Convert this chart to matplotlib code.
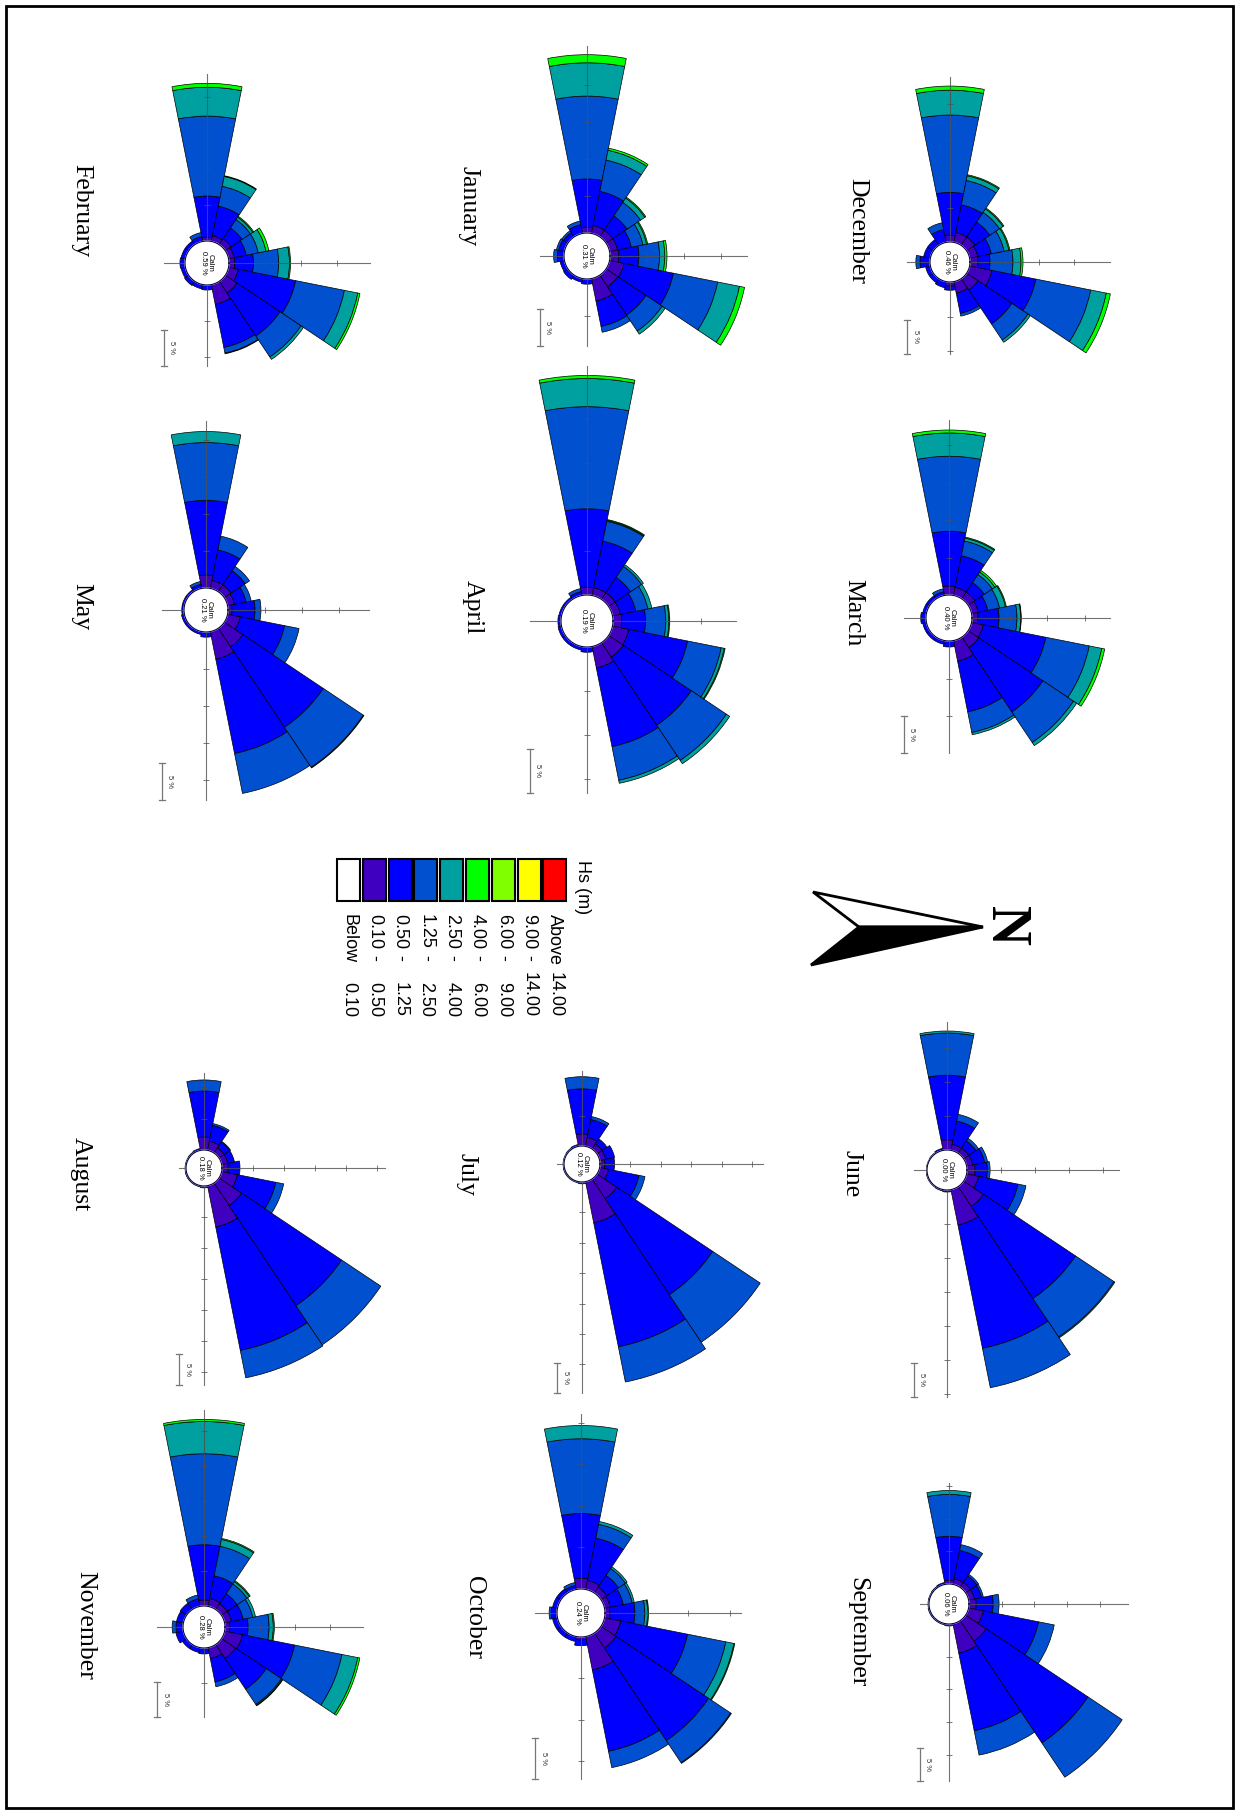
import numpy as np
import matplotlib.pyplot as plt
from matplotlib.patches import Rectangle, Polygon

W, H = 1239, 1814

# 16 sectors, clockwise from N
directions = ['N', 'NNE', 'NE', 'ENE', 'E', 'ESE', 'SE', 'SSE',
              'S', 'SSW', 'SW', 'WSW', 'W', 'WNW', 'NW', 'NNW']
classes = ['0.10 - 0.50', '0.50 - 1.25', '1.25 - 2.50', '2.50 - 4.00', '4.00 - 6.00']
class_colors = ['#4000c0', '#0000ff', '#0050d0', '#00a0a0', '#00ff00']

# legend rows, left to right in the picture
legend_left = ['Below', '0.10', '0.50', '1.25', '2.50', '4.00', '6.00', '9.00', 'Above']
legend_right = ['0.10', '0.50', '1.25', '2.50', '4.00', '6.00', '9.00', '14.00', '14.00']
legend_colors = ['#ffffff', '#4000c0', '#0000ff', '#0050d0', '#00a0a0',
                 '#00ff00', '#80ff00', '#ffff00', '#ff0000']

months = ['December', 'January', 'February', 'March', 'April', 'May',
          'June', 'July', 'August', 'September', 'October', 'November']
calm = [0.46, 0.31, 0.59, 0.40, 0.19, 0.21, 0.00, 0.12, 0.18, 0.06, 0.24, 0.28]

# frequency (%) per sector (rows, N..NNW) and Hs class (columns)
dec = [[1.16, 1.74, 3.33, 1.16, 0.29], [3.3, 6.5, 8.1, 2.3, 0.6], [2.0, 5.9, 2.8, 0.4, 0],
       [1.7, 3.0, 0.4, 0, 0], [0.6, 0.6, 0, 0, 0], [0, 0.9, 0, 0, 0], [0, 0.7, 0, 0, 0],
       [0, 0.7, 0, 0, 0], [0, 1.45, 0.6, 0, 0], [0, 1.0, 0, 0, 0], [0, 1.0, 0, 0, 0],
       [0, 1.9, 1.0, 0, 0], [1.0, 6.2, 11.2, 3.6, 0.6], [1.45, 4.1, 3.6, 0.7, 0.15],
       [1.45, 2.6, 1.7, 0.6, 0.15], [1.2, 2.0, 1.9, 0.7, 0.15]]
jan = [[1.2, 2.7, 2.8, 0.7, 0.3], [2.0, 6.8, 6.1, 3.0, 0.7], [1.9, 4.6, 2.6, 0.5, 0],
       [3.1, 3.5, 0.8, 0, 0], [0, 0.7, 0, 0, 0], [0, 0.5, 0, 0, 0], [0, 0.7, 0, 0, 0],
       [0, 0.6, 0, 0, 0], [0, 0.9, 0.5, 0, 0], [0, 0.8, 0.3, 0, 0], [0, 0.7, 0.3, 0, 0],
       [0, 1.2, 0.5, 0, 0], [0.8, 6.5, 11.2, 4.5, 1.1], [1.1, 4.7, 4.3, 1.35, 0.3],
       [1.1, 2.3, 2.2, 0.7, 0.15], [1.1, 1.9, 1.6, 0.5, 0.15]]
feb = [[0.8, 2.6, 3.5, 1.5, 0.15], [1.4, 8.1, 6.9, 1.9, 0.3], [1.95, 7.2, 3.5, 0.4, 0],
       [2.8, 6.1, 0.8, 0.1, 0], [0, 0.7, 0, 0, 0], [0, 0.6, 0, 0, 0], [0, 0.7, 0, 0, 0],
       [0, 0.6, 0, 0, 0], [0, 0.7, 0, 0, 0], [0, 0.6, 0, 0, 0], [0, 0.6, 0, 0, 0],
       [0, 0.7, 0.55, 0, 0], [0.55, 5.7, 11.1, 4.0, 0.55], [0.8, 4.2, 2.8, 1.4, 0.1],
       [1.0, 1.8, 1.4, 0.4, 0.15], [0.8, 1.7, 1.7, 1.1, 0.4]]
mar = [[0.8, 2.8, 2.4, 0.5, 0.07], [1.6, 8.5, 5.9, 1.7, 0.4], [1.7, 10.3, 4.9, 0.5, 0],
       [2.8, 6.9, 2.8, 0.3, 0], [0, 0.8, 0, 0, 0], [0, 0.5, 0, 0, 0], [0, 0.5, 0, 0, 0],
       [0, 0.5, 0, 0, 0], [0, 0.7, 0, 0, 0], [0, 0.5, 0, 0, 0], [0, 0.5, 0, 0, 0],
       [0, 0.5, 0.4, 0, 0], [1.2, 7.3, 10.0, 3.1, 0.4], [1.1, 4.3, 2.0, 0.4, 0.13],
       [1.1, 1.5, 1.3, 0.4, 0.27], [0.9, 1.3, 1.6, 0.8, 0.13]]
apr = [[1.0, 2.7, 2.3, 0.35, 0.1], [1.9, 6.8, 3.9, 0.35, 0.1], [2.0, 9.3, 4.8, 0.45, 0],
       [2.5, 9.1, 3.9, 0.35, 0], [0, 0.6, 0, 0, 0], [0, 0.4, 0, 0, 0], [0, 0.4, 0, 0, 0],
       [0, 0.4, 0, 0, 0], [0, 0.35, 0, 0, 0], [0, 0.3, 0, 0, 0], [0, 0.3, 0, 0, 0],
       [0, 0.45, 0.35, 0, 0], [0.9, 8.9, 11.6, 3.2, 0.35], [0.9, 5.4, 2.3, 0.1, 0.1],
       [0.9, 2.1, 1.5, 0.25, 0], [0.9, 1.8, 1.4, 0.45, 0]]
may = [[0.55, 3.1, 0.8, 0, 0], [1.75, 6.1, 2.0, 0, 0], [3.0, 13.1, 6.5, 0.1, 0],
       [3.8, 13.0, 5.5, 0, 0], [0, 0.7, 0, 0, 0], [0, 0.4, 0, 0, 0], [0, 0.4, 0, 0, 0],
       [0, 0.4, 0, 0, 0], [0, 0.3, 0, 0, 0], [0, 0.3, 0, 0, 0], [0, 0.3, 0, 0, 0],
       [0, 0.55, 0.4, 0, 0], [1.75, 10.1, 7.8, 1.5, 0], [1.1, 4.2, 1.9, 0, 0],
       [1.1, 2.3, 0.7, 0, 0], [0.95, 1.6, 0.7, 0, 0]]
jun = [[1.2, 1.8, 0.4, 0, 0], [1.8, 5.9, 1.2, 0, 0], [3.5, 16.3, 6.8, 0.15, 0],
       [5.3, 18.5, 5.9, 0, 0], [0, 0.3, 0, 0, 0], [0, 0.2, 0, 0, 0], [0, 0.15, 0, 0, 0],
       [0, 0.15, 0, 0, 0], [0, 0.1, 0, 0, 0], [0, 0.1, 0, 0, 0], [0, 0.15, 0, 0, 0],
       [0, 0.3, 0, 0, 0], [1.5, 9.5, 6.2, 0.3, 0], [0.9, 3.5, 1.0, 0, 0],
       [0.9, 1.3, 0.45, 0, 0], [0.9, 1.8, 0.45, 0, 0]]
jul = [[0.8, 1.6, 0, 0, 0], [1.5, 5.1, 1.0, 0, 0], [3.9, 19.0, 9.4, 0, 0],
       [6.9, 20.8, 5.9, 0, 0], [0, 0.3, 0, 0, 0], [0, 0.2, 0, 0, 0], [0, 0.2, 0, 0, 0],
       [0, 0.2, 0, 0, 0], [0, 0.15, 0, 0, 0], [0, 0.15, 0, 0, 0], [0, 0.2, 0, 0, 0],
       [0, 0.3, 0, 0, 0], [2.0, 7.4, 2.0, 0, 0], [1.5, 3.0, 0.5, 0, 0],
       [1.0, 1.0, 0, 0, 0], [1.0, 1.5, 0, 0, 0]]
aug = [[1.0, 1.9, 0, 0, 0], [2.6, 6.3, 1.3, 0, 0], [4.4, 19.4, 7.6, 0, 0],
       [6.8, 20.3, 4.5, 0, 0], [0, 0.3, 0, 0, 0], [0, 0.2, 0, 0, 0], [0, 0.2, 0, 0, 0],
       [0, 0.2, 0, 0, 0], [0, 0.15, 0, 0, 0], [0, 0.15, 0, 0, 0], [0, 0.2, 0, 0, 0],
       [0, 0.3, 0, 0, 0], [2.1, 7.4, 1.8, 0, 0], [1.5, 2.6, 0.3, 0, 0],
       [1.0, 1.1, 0.15, 0, 0], [1.0, 1.1, 0, 0, 0]]
sep = [[1.1, 2.6, 0.9, 0, 0], [2.3, 8.6, 2.45, 0, 0], [3.8, 18.7, 6.3, 0, 0],
       [4.6, 12.1, 3.8, 0, 0], [0, 0.3, 0, 0, 0], [0, 0.2, 0, 0, 0], [0, 0.2, 0, 0, 0],
       [0, 0.2, 0, 0, 0], [0, 0.15, 0, 0, 0], [0, 0.15, 0, 0, 0], [0, 0.2, 0, 0, 0],
       [0, 0.3, 0, 0, 0], [0.6, 6.7, 6.4, 0.6, 0], [0.9, 4.4, 0.9, 0, 0],
       [0.9, 1.2, 0.3, 0, 0], [0.9, 1.1, 0.3, 0, 0]]
oct_ = [[0.6, 3.0, 1.2, 0.35, 0.1], [2.0, 8.2, 4.7, 1.0, 0.1], [2.2, 13.4, 3.2, 0.1, 0],
        [4.1, 10.0, 2.0, 0, 0], [0.35, 0.7, 0, 0, 0], [0, 0.6, 0, 0, 0], [0, 0.6, 0, 0, 0],
        [0, 0.6, 0, 0, 0], [0, 0.7, 0.25, 0, 0], [0, 0.6, 0, 0, 0], [0, 0.6, 0, 0, 0],
        [0, 0.5, 0.35, 0, 0], [1.3, 7.8, 9.0, 1.6, 0], [1.1, 5.2, 1.7, 0.35, 0],
        [0.85, 1.7, 1.0, 0.25, 0], [0.7, 1.6, 1.1, 0.25, 0]]
nov = [[0.7, 2.6, 3.0, 0.6, 0.15], [2.6, 7.6, 6.9, 2.3, 0.3], [2.4, 5.3, 2.6, 0.15, 0.1],
       [1.6, 3.4, 0.7, 0, 0], [0, 0.85, 0, 0, 0], [0, 0.7, 0, 0, 0], [0, 0.7, 0, 0, 0],
       [0, 1.1, 0, 0, 0], [0, 1.0, 0.55, 0, 0], [0, 1.0, 0, 0, 0], [0, 1.1, 0, 0, 0],
       [0, 1.1, 0.55, 0, 0], [0.85, 7.9, 13.0, 4.6, 0.3], [1.15, 3.3, 4.3, 1.0, 0.15],
       [1.0, 1.7, 1.7, 0.4, 0.15], [1.0, 1.7, 1.4, 0.4, 0]]
roses = [dec, jan, feb, mar, apr, may, jun, jul, aug, sep, oct_, nov]

# layout in pixels: centre x, centre y, calm radius, px per 5 %, axis ends (right, down, left, up)
layout = [(950, 262, 20, 34.5, (160, 92, 43, 185)),
          (587, 256, 23, 37.0, (160, 90, 47, 210)),
          (207, 263, 22, 36.0, (163, 103, 43, 189)),
          (949, 618, 23, 37.5, (161, 135, 45, 198)),
          (587, 621, 26, 44.0, (149, 172, 57, 255)),
          (206, 610, 22, 37.0, (163, 190, 44, 189)),
          (947, 1170, 20, 34.0, (172, 227, 33, 148)),
          (582, 1164, 18, 30.4, (181, 229, 25, 93)),
          (204, 1168, 18, 31.0, (181, 217, 25, 95)),
          (949, 1604, 20, 32.7, (179, 177, 29, 121)),
          (581, 1613, 24, 41.5, (160, 166, 46, 199)),
          (204, 1627, 21, 35.0, (159, 90, 47, 217))]
title_pos = [(857, 231), (469, 206), (81, 211), (853, 613), (473, 607), (81, 607),
             (852, 1174), (466, 1174), (81, 1174), (857, 1632), (474, 1617), (85, 1625)]

fig = plt.figure(figsize=(W / 100, H / 100), dpi=100)
base = fig.add_axes([0, 0, 1, 1])
base.set_xlim(0, W)
base.set_ylim(H, 0)
base.axis('off')

# page frame
base.add_patch(Rectangle((6, 6), W - 12, H - 12, fill=False, ec='black', lw=2))

# north arrow
base.add_patch(Polygon([(983, 927), (813, 892), (859, 927)], closed=True,
                       fc='white', ec='black', lw=2, joinstyle='miter'))
base.add_patch(Polygon([(983, 927), (859, 927), (811, 965)], closed=True,
                       fc='black', ec='black', lw=2, joinstyle='miter'))
base.text(1005, 926, 'N', rotation=-90, ha='center', va='center', fontsize=40,
          family='Liberation Serif', fontweight='bold')

# legend
for i, (lab_l, lab_r, col) in enumerate(zip(legend_left, legend_right, legend_colors)):
    xc = 348.5 + i * 25.8
    base.add_patch(Rectangle((xc - 11.5, 859), 23, 42, fc=col, ec='black', lw=1.5))
    base.text(xc, 914, lab_l, rotation=-90, ha='center', va='top', fontsize=13,
              family='Liberation Sans')
    if 0 < i < len(legend_left) - 1:
        base.text(xc, 958, '-', rotation=-90, ha='center', va='center', fontsize=13,
                  family='Liberation Sans')
    base.text(xc, 1017, lab_r, rotation=-90, ha='center', va='bottom', fontsize=13,
              family='Liberation Sans')
base.text(583, 860, 'Hs (m)', rotation=-90, ha='center', va='top', fontsize=13,
          family='Liberation Sans')

# month titles
for name, (tx, ty) in zip(months, title_pos):
    base.text(tx, ty, name, rotation=-90, ha='center', va='center', fontsize=18.5,
              family='Liberation Serif')

box = 262
width = np.radians(22.5)
theta = np.radians(np.arange(16) * 22.5)
circ = np.linspace(0, 2 * np.pi, 200)

for data, c, (cx, cy, r0, s, ends) in zip(roses, calm, layout):
    vals = np.array(data, dtype=float)
    k = 5.0 / s  # % per pixel
    r0p = r0 * k
    ax = fig.add_axes([(cx - box) / W, 1 - (cy + box) / H, 2 * box / W, 2 * box / H],
                      projection='polar')
    ax.set_theta_zero_location('E')
    ax.set_theta_direction(-1)
    ax.set_ylim(0, box * k)
    ax.set_axis_off()

    bottom = np.full(16, r0p)
    for j, col in enumerate(class_colors):
        h = vals[:, j]
        m = h > 0
        ax.bar(theta[m], h[m], width=width, bottom=bottom[m], color=col,
               edgecolor='black', linewidth=0.5, zorder=2)
        bottom = bottom + h

    # compass axes with 5 % ticks
    for ang, end, mk in zip([0, np.pi / 2, np.pi, 3 * np.pi / 2], ends, ['|', '_', '|', '_']):
        ax.plot([ang, ang], [r0p, end * k], color='#505050', lw=0.8, alpha=0.8, zorder=3)
        tk = r0 + s * np.arange(1, 12)
        tk = tk[tk < end - 2]
        ax.plot(np.full(len(tk), ang), tk * k, ls='none', marker=mk, ms=5, mew=0.7,
                color='#505050', alpha=0.75, zorder=3)

    ax.fill(circ, np.full(200, r0p), color='white', zorder=4)
    ax.plot(circ, np.full(200, r0p), color='#000040', lw=0.8, zorder=5)
    ax.text(0, 0, 'Calm\n%.2f %%' % c, rotation=-90, ha='center', va='center',
            fontsize=5.5, family='Liberation Sans', linespacing=1.0, zorder=6)

    # 5 % scale bar
    bx = cx - ends[2]
    y1 = cy + ends[1]
    y0 = y1 - s
    base.plot([bx, bx], [y0, y1], color='#777777', lw=0.9)
    base.plot([bx - 3, bx + 3], [y0, y0], color='#777777', lw=0.9)
    base.plot([bx - 3, bx + 3], [y1, y1], color='#777777', lw=0.9)
    base.text(bx + 8, (y0 + y1) / 2, '5 %', rotation=-90, ha='center', va='center',
              fontsize=5.5, family='Liberation Sans', color='#333333')

fig.savefig('out.png', dpi=100)
